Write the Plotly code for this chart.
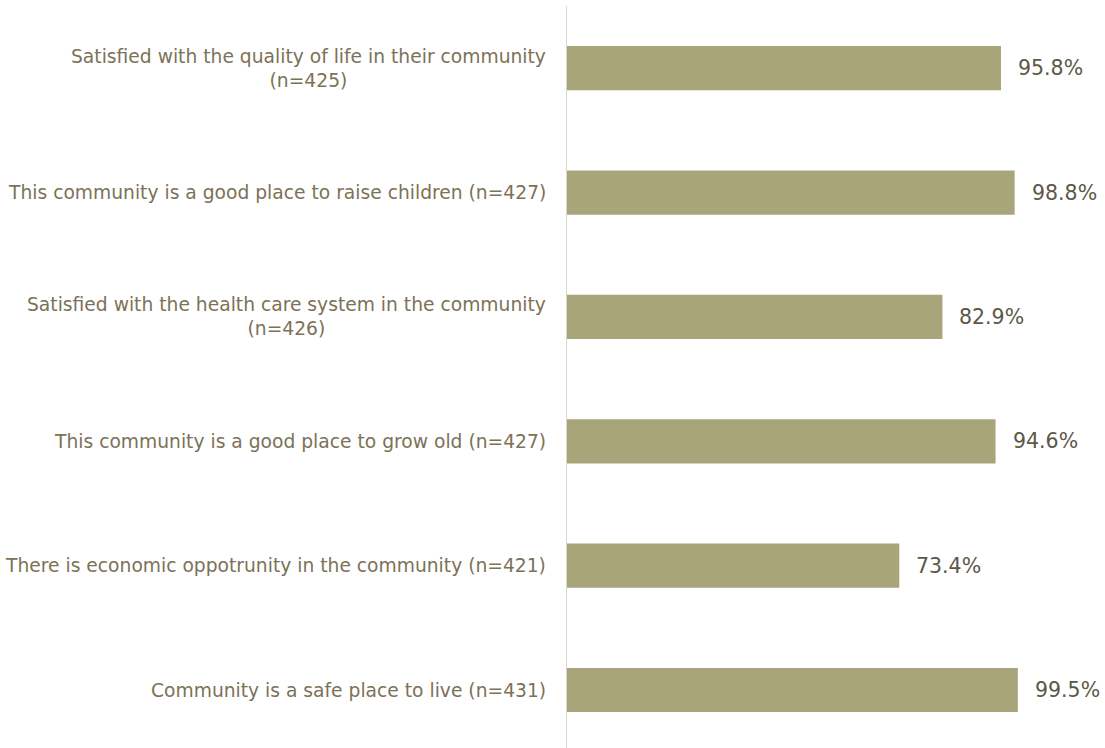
import plotly.graph_objects as go

categories = [
    "Satisfied with the quality of life in their community<br>(n=425)",
    "This community is a good place to raise children (n=427)",
    "Satisfied with the health care system in the community<br>(n=426)",
    "This community is a good place to grow old (n=427)",
    "There is economic oppotrunity in the community (n=421)",
    "Community is a safe place to live (n=431)",
]
values = [95.8, 98.8, 82.9, 94.6, 73.4, 99.5]

BAR = "#a8a57b"
LABEL = "#7b7257"
VALUE = "#5c5849"
FONT = "DejaVu Sans"

pos = list(range(len(categories)))

fig = go.Figure(go.Bar(
    x=values, y=pos, orientation="h",
    marker=dict(color=BAR, line=dict(width=0)),
    width=0.355, hoverinfo="skip",
))

# category labels, centred per line and right-aligned against the axis
for p, c in zip(pos, categories):
    fig.add_annotation(x=0, y=p, xref="x", yref="y", text=c, showarrow=False,
                       xanchor="right", yanchor="middle", align="center",
                       xshift=-18, font=dict(family=FONT, size=18.7, color=LABEL))

# value labels just past each bar end
for p, v in zip(pos, values):
    fig.add_annotation(x=v, y=p, xref="x", yref="y", text=f"{v:.1f}%",
                       showarrow=False, xanchor="left", yanchor="middle",
                       xshift=15, font=dict(family=FONT, size=20.5, color=VALUE))

fig.update_layout(
    width=1105, height=748,
    margin=dict(l=566, r=0, t=6, b=0),
    paper_bgcolor="white", plot_bgcolor="white",
    showlegend=False,
    xaxis=dict(range=[0, 118.7], visible=False, fixedrange=True),
    yaxis=dict(range=[5.466, -0.5], showticklabels=False, showgrid=False,
               zeroline=False, ticks="", fixedrange=True),
    shapes=[dict(type="line", xref="x", yref="paper", x0=0, x1=0, y0=0, y1=1,
                 line=dict(color="#dad6cc", width=2))],
)

fig.write_html("out.html")
